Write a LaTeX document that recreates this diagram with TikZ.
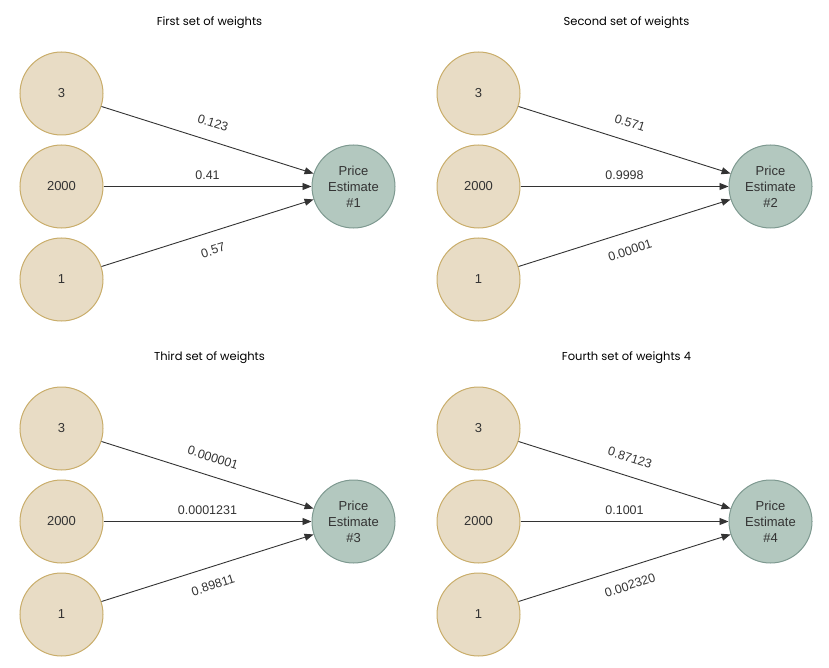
\documentclass[tikz,border=0pt]{standalone}
\usepackage{fontspec}
\setmainfont{Liberation Sans}
\newfontfamily\titlefont{Poppins}
\usetikzlibrary{arrows.meta}
\definecolor{Sand}{HTML}{E8DCC5}
\definecolor{SandLine}{HTML}{C9AD6A}
\definecolor{Sage}{HTML}{B3C8BF}
\definecolor{SageLine}{HTML}{7E9990}
\definecolor{Ink}{HTML}{333333}

\begin{document}
\begin{tikzpicture}[x=1pt,y=-1pt,
  input/.style={circle,draw=SandLine,fill=Sand,line width=1pt,minimum size=83pt,inner sep=0pt,font=\fontsize{13}{16}\selectfont,text=Ink},
  estimate/.style={circle,draw=SageLine,fill=Sage,line width=1pt,minimum size=83pt,inner sep=0pt,align=center,font=\fontsize{13}{16}\selectfont,text=Ink},
  weight/.style={-{Triangle[length=9pt,width=7pt]},line width=0.9pt,draw=Ink},
  wlabel/.style={midway,sloped,font=\fontsize{12.5}{14}\selectfont,text=Ink},
  heading/.style={font=\titlefont\fontsize{11.5}{14}\selectfont}]
\useasboundingbox (0,0) rectangle (829,668);

\foreach \px/\py/\n/\title/\wa/\wb/\wc in {
    0/0/1/First set of weights/0.123/0.41/0.57,
    417/0/2/Second set of weights/0.571/0.9998/0.00001,
    0/335/3/Third set of weights/0.000001/0.0001231/0.89811,
    417/335/4/Fourth set of weights 4/0.87123/0.1001/0.002320} {
  \begin{scope}[shift={(\px,\py)}]
    \node[heading] (title\n) at (209.5,23) {\title};
    % inputs
    \node[input] (top\n) at (61.5,93.5) {3};
    \node[input] (mid\n) at (61.5,186.5) {2000};
    \node[input] (low\n) at (61.5,279.5) {1};
    % output
    \node[estimate] (price\n) at (353.5,186.5) {Price\\Estimate\\\#\n};

    \draw[weight] (top\n.-18) -- (price\n.162) node[wlabel,above=10pt] {\wa};
    \draw[weight] (mid\n) -- (price\n) node[wlabel,above=3pt] {\wb};
    \draw[weight] (low\n.18) -- (price\n.198) node[wlabel,below=10pt] {\wc};
  \end{scope}
}
\end{tikzpicture}
\end{document}
